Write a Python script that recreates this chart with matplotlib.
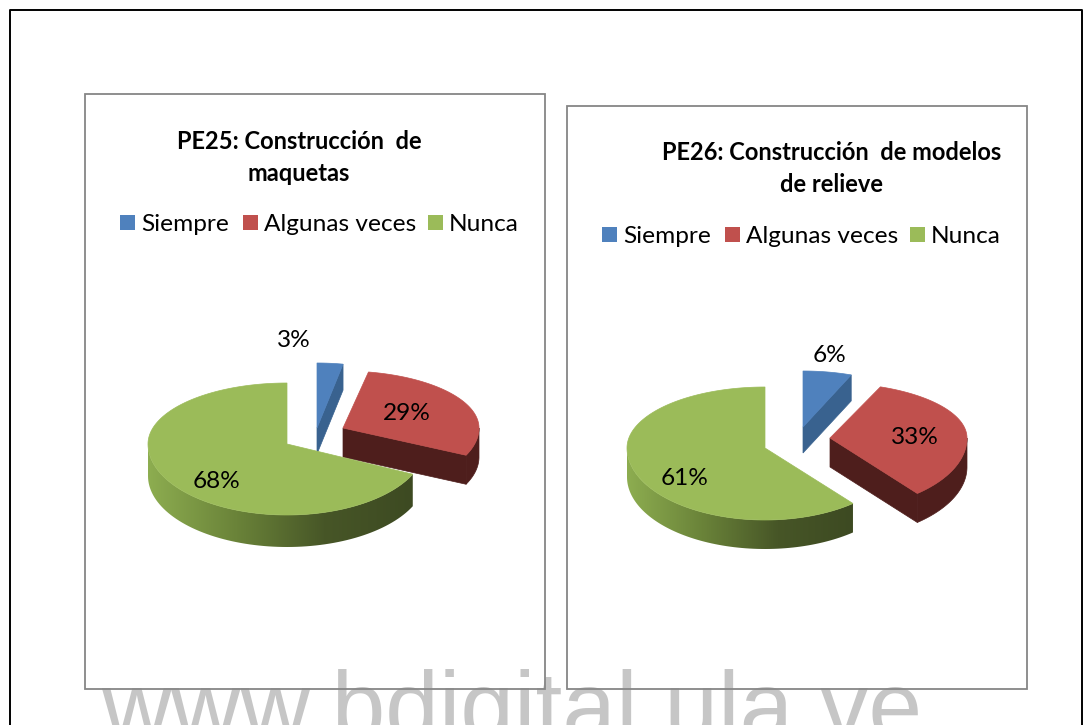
import numpy as np
import matplotlib
matplotlib.use("Agg")
import matplotlib.pyplot as plt
from matplotlib.colors import LinearSegmentedColormap
from matplotlib.patches import Polygon, Rectangle

plt.rcParams["font.family"] = ["Lato", "DejaVu Sans"]

categories = ["Siempre", "Algunas veces", "Nunca"]
pe25_values = [3, 29, 68]
pe26_values = [6, 33, 61]
pe25_title = "PE25: Construcción  de\nmaquetas"
pe26_title = "PE26: Construcción  de modelos\nde relieve"
watermark = "www.bdigital.ula.ve"

top_colors = ["#4F81BD", "#C0504D", "#9BBB59"]
side_colors = ["#39628F", "#4E1E1C", None]
green_side = LinearSegmentedColormap.from_list(
    "green_side", ["#8DAD50", "#6A8339", "#475627", "#3D4A22"])


def point(geo, theta):
    # theta is clockwise from the top, degrees
    t = np.radians(theta)
    cy_scale = np.where(np.cos(t) > 0, geo["ry_top"], geo["ry_bot"])
    return geo["x"] + geo["rx"] * np.sin(t), geo["y"] - cy_scale * np.cos(t)


def draw_slice(ax, geo, start, end, color, side):
    depth = geo["depth"]
    # radial face at the end of the slice, only when it faces us
    if end < 180:
        ex, ey = point(geo, end)
        face = [(geo["x"], geo["y"]), (ex, ey), (ex, ey + depth), (geo["x"], geo["y"] + depth)]
        ax.add_patch(Polygon(face, closed=True, fc=side, ec=side, lw=0.5, zorder=3))

    # outer wall
    a, b = max(start, 90), min(end, 270)
    if b > a:
        th = np.linspace(a, b, 80)
        xs, ys = point(geo, th)
        wall = np.vstack([np.column_stack([xs, ys]),
                          np.column_stack([xs, ys + depth])[::-1]])
        if side is None:
            poly = Polygon(wall, closed=True, fc="none", ec="none", zorder=3)
            ax.add_patch(poly)
            grad = np.linspace(0, 1, 256).reshape(1, -1)
            im = ax.imshow(grad, cmap=green_side, aspect="auto", zorder=3,
                           extent=(xs.min(), xs.max(), ys.max() + depth, ys.min()))
            im.set_clip_path(poly)
        else:
            ax.add_patch(Polygon(wall, closed=True, fc=side, ec=side, lw=0.5, zorder=3))

    # top face
    th = np.linspace(start, end, 150)
    xs, ys = point(geo, th)
    pts = np.vstack([[geo["x"], geo["y"]], np.column_stack([xs, ys])])
    ax.add_patch(Polygon(pts, closed=True, fc=color, ec=color, lw=0.5, zorder=4))


def draw_pie(ax, values, geos):
    total = sum(values)
    angle = 0
    for i, v in enumerate(values):
        sweep = 360 * v / total
        draw_slice(ax, geos[i], angle, angle + sweep, top_colors[i], side_colors[i])
        angle += sweep


def draw_chart(ax, frame, title, title_xy, line_gap, values, geos, label_xy, legend_y, legend_x):
    x0, y0, x1, y1 = frame
    ax.add_patch(Rectangle((x0, y0), x1 - x0, y1 - y0, fc="none", ec="#868686", lw=1.3, zorder=5))
    for i, line in enumerate(title.split("\n")):
        ax.text(title_xy[0], title_xy[1] + i * line_gap, line, ha="center", va="center",
                fontsize=17, fontweight="bold", color="black", zorder=6)
    for i, cat in enumerate(categories):
        sx = legend_x[i]
        ax.add_patch(Rectangle((sx, legend_y - 8), 15, 15, fc=top_colors[i], ec="none", zorder=6))
        ax.text(sx + 21, legend_y + 1, cat, ha="left", va="center", fontsize=17.6, color="black", zorder=6)
    draw_pie(ax, values, geos)
    for v, (lx, ly) in zip(values, label_xy):
        ax.text(lx, ly, f"{v}%", ha="center", va="center", fontsize=17.6, color="black", zorder=7)


fig = plt.figure(figsize=(10.84, 7.25), dpi=100)
ax = fig.add_axes([0, 0, 1, 1])

# outer page frame
ax.plot([10, 10, 1082, 1082], [725, 10, 10, 725], color="black", lw=1.4, zorder=1)

# watermark sits under the chart frames
ax.text(512, 739, watermark, ha="center", va="baseline", fontsize=69.5,
        family="Liberation Sans", color="#C6C6C6", zorder=2)

left_geos = [
    dict(x=317, y=428, rx=139, ry_top=65, ry_bot=69, depth=26),
    dict(x=343, y=428, rx=136, ry_top=57, ry_bot=64, depth=29),
    dict(x=287, y=444, rx=139, ry_top=61, ry_bot=71, depth=32),
]
right_geos = [
    dict(x=803, y=427, rx=131, ry_top=56, ry_bot=68, depth=26),
    dict(x=830, y=438, rx=137, ry_top=55, ry_bot=72, depth=29),
    dict(x=765, y=448, rx=138, ry_top=61, ry_bot=72, depth=29),
]

draw_chart(ax, (85, 94, 545, 689), pe25_title, (299, 141), 32, pe25_values, left_geos,
           [(294, 340), (407, 413), (216, 481)], 223, (120, 243, 428))
draw_chart(ax, (567, 106, 1027, 689), pe26_title, (832, 152), 32, pe26_values, right_geos,
           [(829, 355), (915, 437), (685, 478)], 235, (602, 725, 910))

ax.set_xlim(0, 1084)
ax.set_ylim(725, 0)
ax.axis("off")

fig.savefig("out.png", dpi=100, facecolor="white")
